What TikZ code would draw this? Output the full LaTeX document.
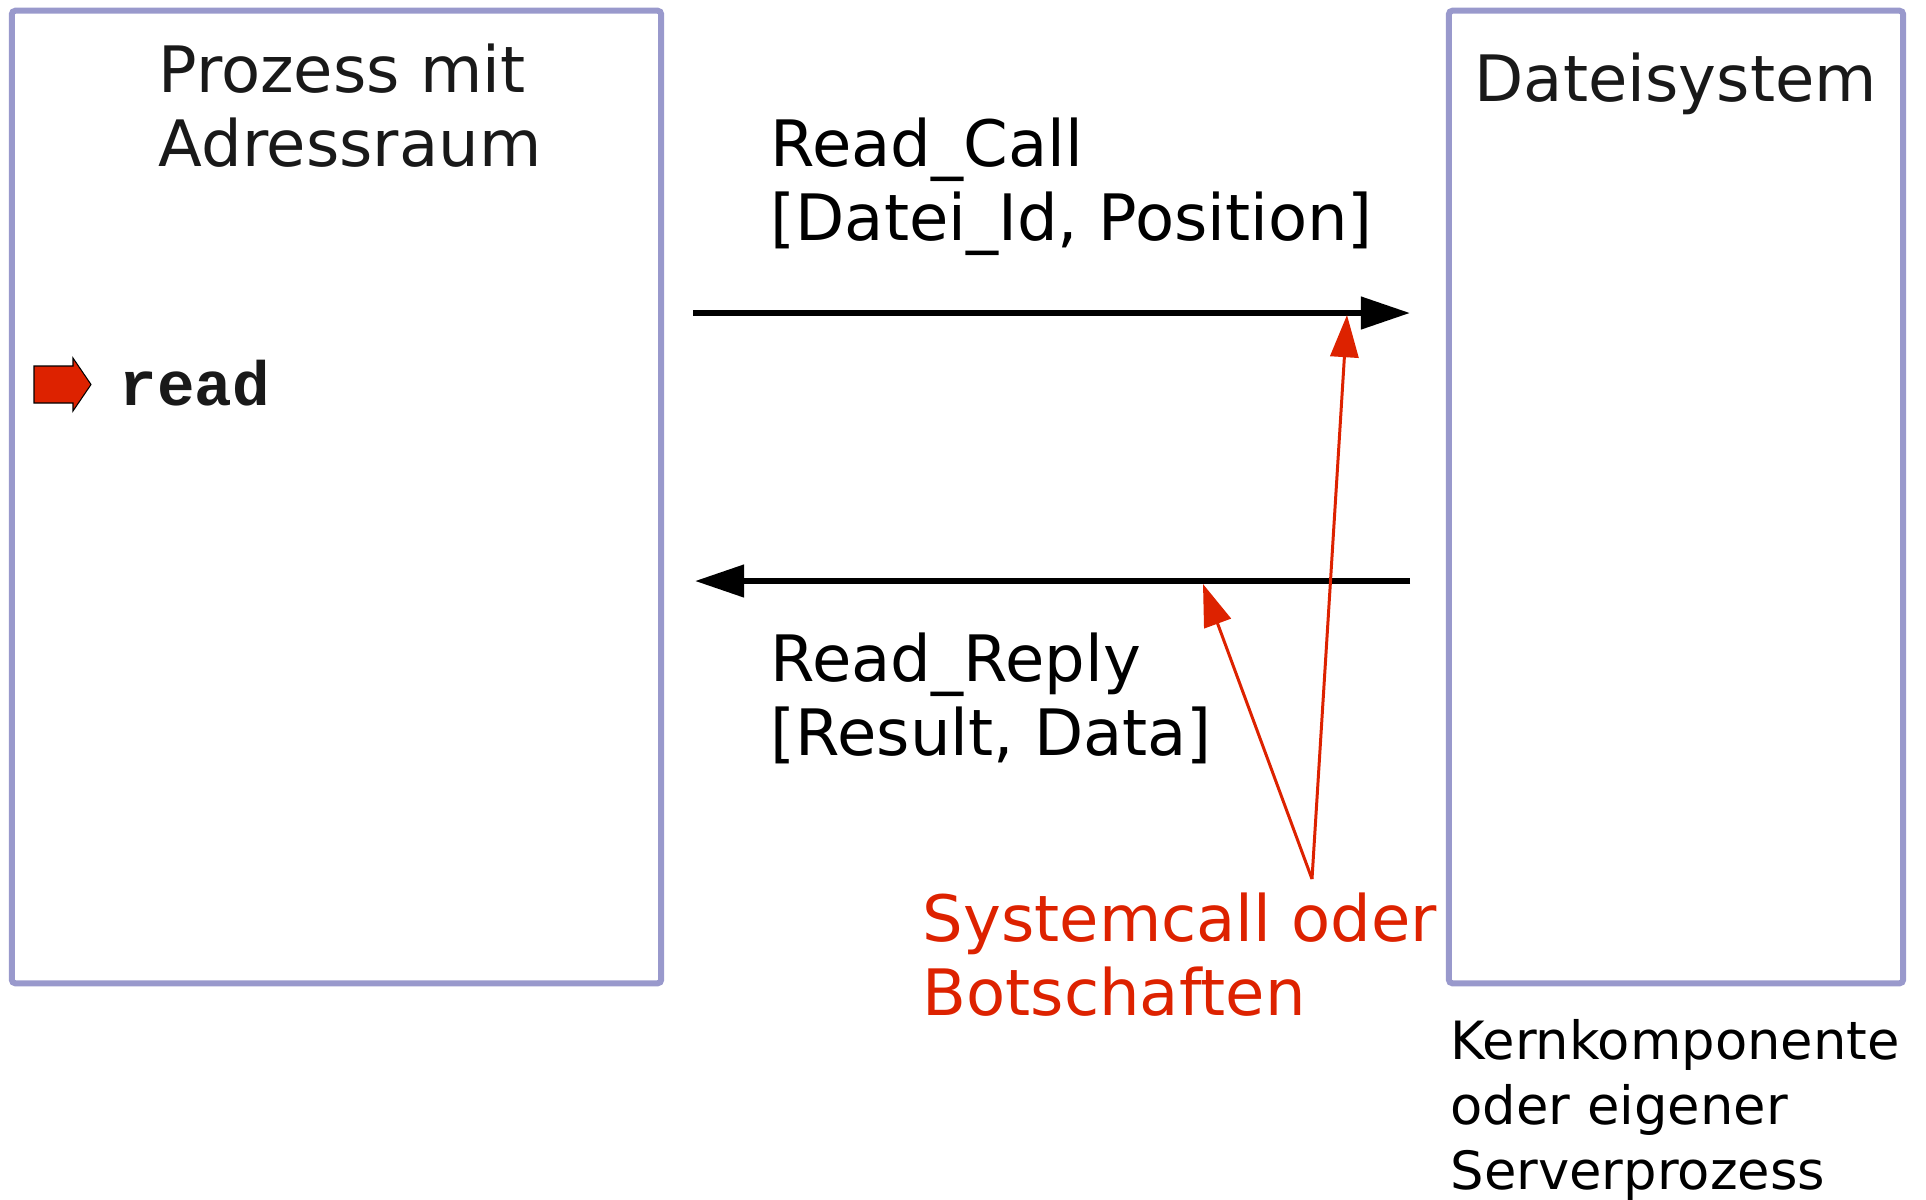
\documentclass[tikz,border=0pt]{standalone}
\usepackage{fontspec}
\setmainfont{DejaVu Sans}
\setmonofont{Liberation Mono}
\usetikzlibrary{arrows.meta}
\definecolor{boxline}{RGB}{153,153,204}
\definecolor{callred}{HTML}{DD2200}

\begin{document}
\begin{tikzpicture}[
		x=0.01cm, y=-0.01cm
		,box/.style={draw=boxline, line width=1.7pt, rounded corners=1pt, inner sep=0pt}
		,lbl/.style={anchor=base west, inner sep=0pt, align=left, font=\fontsize{18.2}{21}\selectfont}
		,small/.style={lbl, font=\fontsize{15}{18.35}\selectfont}
		,msg/.style={line width=1.7pt, -{Triangle[length=14pt, width=9pt]}}
		,hint/.style={callred, line width=0.85pt, -{Triangle[length=12pt, width=8pt]}}
	]
		\useasboundingbox (0,0) rectangle (1926,1199);

		% the two parties (base anchor = last line)
		\node[box, minimum width=6.49cm, minimum height=9.72cm] (proc) at (336.5,497) {};
		\node[box, minimum width=4.54cm, minimum height=9.72cm] (fs) at (1676,497) {};
		\node[lbl, text=black!90] (procT) at (158,166) {Prozess mit\\Adressraum};
		\node[lbl, text=black!90] (fsT) at (1474,101) {Dateisystem};
		\node[small] (fsN) at (1450,1189) {Kernkomponente\\oder eigener\\Serverprozess};

		% current instruction
		\draw[fill=callred, line width=0.3pt] (34,366) -- (73,366) -- (73,358) -- (91,384.5)
			-- (73,411) -- (73,403) -- (34,403) -- cycle;
		\node[anchor=base west, inner sep=0pt, text=black!90, font=\fontsize{17.8}{21}\selectfont\ttfamily\bfseries] (rd) at (119,405) {read};

		% messages
		\coordinate (callS) at (693,313);
		\coordinate (callE) at (1410,313);
		\coordinate (replyS) at (1410,581);
		\coordinate (replyE) at (695,581);
		\draw[msg] (callS) -- (callE);
		\draw[msg] (replyS) -- (replyE);
		\node[lbl] (callL) at (770,240) {Read\_Call\\{}[Datei\_Id, Position]};
		\node[lbl] (replyL) at (770,755) {Read\_Reply\\{}[Result, Data]};

		% annotation
		\coordinate (fork) at (1312,879);
		\coordinate (onCall) at (1347,315);
		\coordinate (onReply) at (1203,584);
		\draw[hint] (fork) -- (onCall);
		\draw[hint] (fork) -- (onReply);
		\node[lbl, text=callred] (note) at (922,1015) {Systemcall oder\\Botschaften};
	\end{tikzpicture}
\end{document}
